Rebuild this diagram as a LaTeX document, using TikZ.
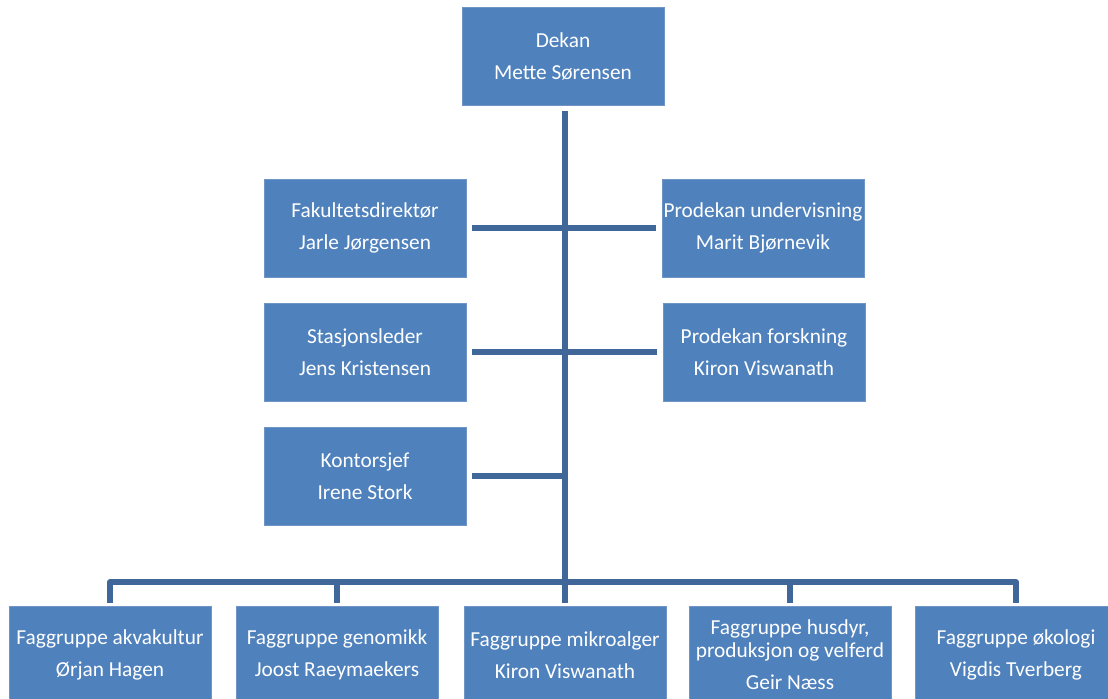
\documentclass[tikz,border=0pt]{standalone}
\usepackage{fontspec}
\setmainfont{Carlito}
\definecolor{boxfill}{HTML}{4F81BD}
\definecolor{boxedge}{HTML}{7096C8}
\definecolor{linecol}{HTML}{3F679A}
\begin{document}
\begin{tikzpicture}[x=0.75pt,y=-0.75pt,
  orgbox/.style={rectangle, fill=boxfill, draw=boxedge, line width=0.4pt,
    minimum width=151.5pt, minimum height=73.5pt, inner sep=0pt,
    text=white, align=center, font=\fontsize{16}{24}\selectfont},
  conn/.style={draw=linecol, line width=4pt, line join=round, line cap=butt}]
\useasboundingbox (0,0) rectangle (1108,699);
\clip (0,0) rectangle (1108,699);
% top
\node[orgbox] (dekan) at (563,56) {Dekan\\Mette Sørensen};
\node[orgbox] (fak) at (365,228) {Fakultetsdirektør\\Jarle Jørgensen};
\node[orgbox] (pu) at (763,228) {Prodekan undervisning\\Marit Bjørnevik};
\node[orgbox] (sta) at (365,352) {Stasjonsleder\\Jens Kristensen};
\node[orgbox] (pf) at (764,352) {Prodekan forskning\\Kiron Viswanath};
\node[orgbox] (kon) at (365,476) {Kontorsjef\\Irene Stork};
% bottom
\node[orgbox] (f1) at (110,655) {Faggruppe akvakultur\\Ørjan Hagen};
\node[orgbox] (f2) at (337,655) {Faggruppe genomikk\\Joost Raeymaekers};
\node[orgbox] (f3) at (565,655) {Faggruppe mikroalger\\Kiron Viswanath};
\node[orgbox, font=\fontsize{16}{17.5}\selectfont] (f4) at (790,655) {Faggruppe husdyr,\\produksjon og velferd\\[6.5pt]Geir Næss};
\node[orgbox] (f5) at (1016,655) {Faggruppe økologi\\Vigdis Tverberg};
% connectors
\coordinate (bus) at (565,582);
\draw[conn] ([yshift=-4.5pt]dekan.south -| bus) -- (bus);
\draw[conn] ([xshift=4.5pt]fak.east) -- ([xshift=-4pt]pu.west);
\draw[conn] ([xshift=4.5pt]sta.east) -- ([xshift=-4pt]pf.west);
\draw[conn] ([xshift=4.5pt]kon.east) -- (kon.east -| bus);
\draw[conn] ([yshift=2.25pt]f1.north) |- (bus) -| ([yshift=2.25pt]f5.north);
\draw[conn] ([yshift=2.25pt]f2.north) -- (f2.north |- bus);
\draw[conn] ([yshift=2.25pt]f3.north) -- (f3.north |- bus);
\draw[conn] ([yshift=2.25pt]f4.north) -- (f4.north |- bus);
\end{tikzpicture}
\end{document}
